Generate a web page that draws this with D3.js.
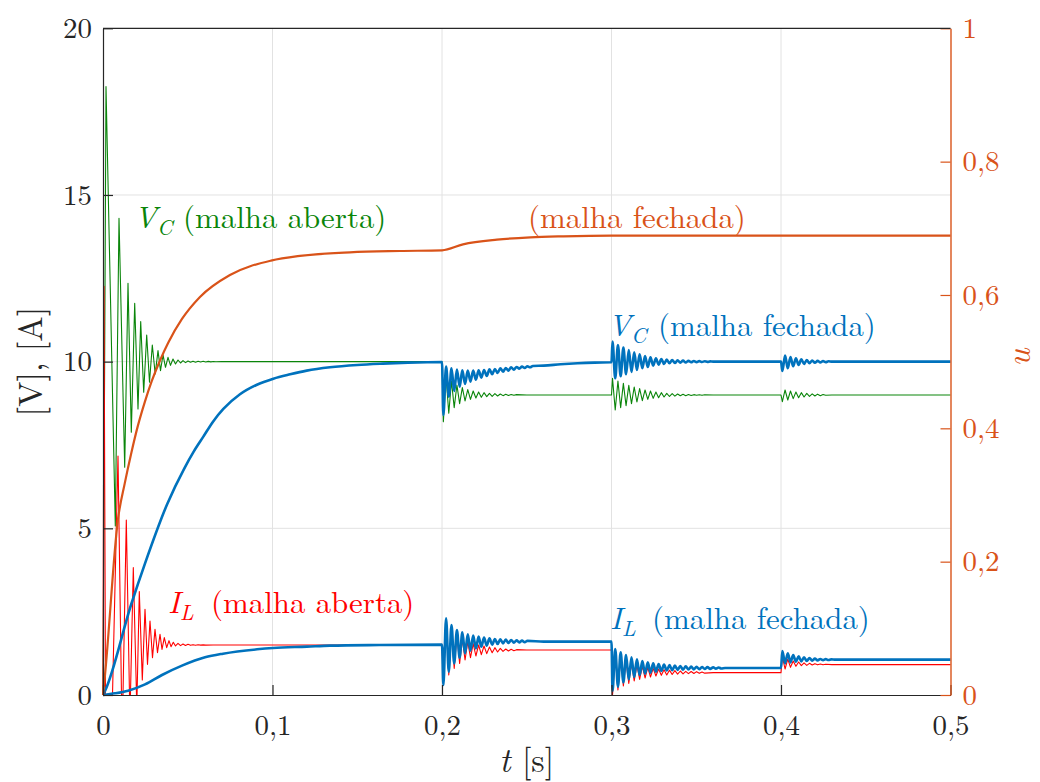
<!DOCTYPE html>
<html>
<head>
<meta charset="utf-8">
<script src="https://cdn.jsdelivr.net/npm/d3@7"></script>
<style>
  body { margin: 0; background: #fff; }
</style>
</head>
<body>
<svg id="chart" width="1040" height="782"></svg>
<script>
// ---- Tick values ----
const xTicks = [0, 0.1, 0.2, 0.3, 0.4, 0.5];
const yLeftTicks = [0, 5, 10, 15, 20];
const yRightTicks = [0, 0.2, 0.4, 0.6, 0.8, 1];

// ---- V_C, open loop: [t (s), V] ----
const vcAbertaPartida = [
  [0, 0], [0.00177, 18.25], [0.00726, 5.07], [0.00944, 14.3], [0.0128, 6.83],
  [0.01475, 12.35], [0.0167, 7.88], [0.0187, 11.75], [0.02065, 8.58], [0.02224, 11.2],
  [0.02401, 9.08], [0.02578, 10.8], [0.02743, 9.38], [0.02909, 10.5], [0.0308, 9.63],
  [0.03245, 10.33], [0.03392, 9.73], [0.0354, 10.2], [0.03687, 9.83], [0.03835, 10.13],
  [0.03982, 9.89], [0.0413, 10.08], [0.04277, 9.93], [0.04425, 10.05], [0.04572, 9.96],
  [0.0472, 10.03], [0.04867, 9.97], [0.05015, 10.02], [0.05162, 9.98], [0.0531, 10.015],
  [0.0546, 9.985], [0.0561, 10.012], [0.0576, 9.99], [0.0591, 10.01], [0.0606, 9.99],
  [0.0621, 10.008], [0.0636, 9.993], [0.0651, 10.005], [0.0666, 9.996], [0.07, 10], [0.2, 10]
];
const vcAberta02 = [
  [0.2008, 8.2], [0.2024, 9.55], [0.204, 8.45], [0.2056, 9.42], [0.2072, 8.62],
  [0.2088, 9.3], [0.2104, 8.74], [0.212, 9.22], [0.2136, 8.82], [0.2152, 9.16],
  [0.2168, 8.87], [0.2184, 9.12], [0.22, 8.91], [0.2216, 9.09], [0.2232, 8.93],
  [0.2248, 9.07], [0.2264, 8.95], [0.228, 9.05], [0.2296, 8.96], [0.2312, 9.04],
  [0.2328, 8.97], [0.2344, 9.03], [0.236, 8.98], [0.2376, 9.02], [0.2392, 8.985],
  [0.2408, 9.015], [0.2424, 8.99], [0.244, 9.01], [0.25, 9.0], [0.3, 9.0]
];
const vcAberta03 = [
  [0.3006, 9.5], [0.3022, 8.55], [0.3038, 9.42], [0.3054, 8.62], [0.307, 9.35],
  [0.3086, 8.68], [0.3102, 9.29], [0.3118, 8.74], [0.3134, 9.24], [0.315, 8.79],
  [0.3166, 9.19], [0.3182, 8.83], [0.3198, 9.15], [0.3214, 8.87], [0.323, 9.12],
  [0.3246, 8.9], [0.3262, 9.09], [0.3278, 8.92], [0.3294, 9.07], [0.331, 8.94],
  [0.3326, 9.05], [0.3342, 8.955], [0.3358, 9.04], [0.3374, 8.965], [0.339, 9.03],
  [0.3406, 8.975], [0.3422, 9.02], [0.3438, 8.98], [0.3454, 9.015], [0.347, 8.985],
  [0.3486, 9.01], [0.3502, 8.99], [0.3518, 9.008], [0.3534, 8.993], [0.355, 9.005],
  [0.36, 9], [0.4, 9]
];
const vcAberta04 = [
  [0.4008, 8.8], [0.4024, 9.15], [0.404, 8.85], [0.4056, 9.12], [0.4072, 8.89],
  [0.4088, 9.09], [0.4104, 8.92], [0.412, 9.07], [0.4136, 8.94], [0.4152, 9.05],
  [0.4168, 8.96], [0.4184, 9.035], [0.42, 8.97], [0.4216, 9.025], [0.4232, 8.98],
  [0.4248, 9.015], [0.4264, 8.99], [0.43, 9], [0.5, 9]
];

// ---- I_L, open loop: [t (s), A] ----
const ilAbertaPartida = [
  [0, 0], [0.00059, 12.26], [0.00147, 0], [0.0056, 0], [0.00885, 7.17], [0.01091, 0],
  [0.0118, 0], [0.01375, 5.25], [0.01563, 0], [0.0162, 0], [0.01788, 3.82], [0.01976, 0],
  [0.0201, 0], [0.02142, 3.1], [0.02319, 0.45], [0.02478, 2.57], [0.02625, 0.92],
  [0.02773, 2.22], [0.0292, 1.12], [0.03068, 1.97], [0.03215, 1.27], [0.03363, 1.82],
  [0.03481, 1.37], [0.03617, 1.72], [0.03758, 1.42], [0.03894, 1.63], [0.04012, 1.45],
  [0.04147, 1.58], [0.04277, 1.47], [0.04425, 1.55], [0.04572, 1.48], [0.0472, 1.53],
  [0.04867, 1.485], [0.05015, 1.52], [0.05162, 1.49], [0.0531, 1.51], [0.0546, 1.492],
  [0.0561, 1.508], [0.0576, 1.495], [0.0591, 1.505], [0.0606, 1.497], [0.065, 1.5], [0.2, 1.5]
];
const ilAberta02 = [
  [0.2008, 0.35], [0.2024, 2.2], [0.204, 0.6], [0.2056, 1.95], [0.2072, 0.8],
  [0.2088, 1.8], [0.2104, 0.95], [0.212, 1.68], [0.2136, 1.05], [0.2152, 1.6],
  [0.2168, 1.12], [0.2184, 1.54], [0.22, 1.17], [0.2216, 1.5], [0.2232, 1.21],
  [0.2248, 1.47], [0.2264, 1.24], [0.228, 1.44], [0.2296, 1.27], [0.2312, 1.42],
  [0.2328, 1.29], [0.2344, 1.4], [0.236, 1.31], [0.2376, 1.38], [0.2392, 1.32],
  [0.2408, 1.37], [0.2424, 1.33], [0.244, 1.36], [0.25, 1.35], [0.3, 1.35]
];
const ilAberta03 = [
  [0.3006, 0.0], [0.3022, 1.2], [0.3038, 0.15], [0.3054, 1.1], [0.307, 0.27],
  [0.3086, 1.02], [0.3102, 0.35], [0.3118, 0.95], [0.3134, 0.42], [0.315, 0.9],
  [0.3166, 0.47], [0.3182, 0.86], [0.3198, 0.51], [0.3214, 0.83], [0.323, 0.54],
  [0.3246, 0.8], [0.3262, 0.57], [0.3278, 0.78], [0.3294, 0.59], [0.331, 0.76],
  [0.3326, 0.6], [0.3342, 0.745], [0.3358, 0.615], [0.3374, 0.73], [0.339, 0.625],
  [0.3406, 0.72], [0.3422, 0.635], [0.3438, 0.71], [0.3454, 0.64], [0.347, 0.705],
  [0.3486, 0.645], [0.3502, 0.7], [0.3518, 0.65], [0.3534, 0.69], [0.355, 0.655],
  [0.36, 0.67], [0.4, 0.67]
];
const ilAberta04 = [
  [0.4008, 1.15], [0.4024, 0.78], [0.404, 1.08], [0.4056, 0.83], [0.4072, 1.02],
  [0.4088, 0.86], [0.4104, 0.99], [0.412, 0.88], [0.4136, 0.965], [0.4152, 0.89],
  [0.4168, 0.95], [0.4184, 0.9], [0.42, 0.94], [0.4216, 0.905], [0.4232, 0.93],
  [0.4248, 0.908], [0.4264, 0.922], [0.43, 0.91], [0.5, 0.91]
];

// ---- V_C, closed loop: [t (s), V] ----
const vcFechadaPartida = [
  [0, 0], [0.00118, 0.12], [0.0167, 2.73], [0.0248, 3.95], [0.0379, 5.73], [0.048, 6.8],
  [0.0535, 7.3], [0.0592, 7.75], [0.0649, 8.2], [0.071, 8.58], [0.0808, 9.02],
  [0.0905, 9.3], [0.1005, 9.49], [0.1104, 9.62], [0.1202, 9.73], [0.1339, 9.83],
  [0.15, 9.9], [0.165, 9.94], [0.18, 9.97], [0.2, 9.99]
];
const vcFechada02 = [
  [0.2008, 8.4], [0.2024, 9.85], [0.204, 8.95], [0.2056, 9.8], [0.2072, 9.12],
  [0.2088, 9.76], [0.2104, 9.25], [0.212, 9.74], [0.2136, 9.33], [0.2152, 9.73],
  [0.2168, 9.4], [0.2184, 9.73], [0.22, 9.46], [0.2216, 9.74], [0.2232, 9.52],
  [0.2248, 9.75], [0.2264, 9.57], [0.228, 9.77], [0.2296, 9.62], [0.2312, 9.78],
  [0.2328, 9.66], [0.2344, 9.8], [0.236, 9.7], [0.2376, 9.81], [0.2392, 9.73],
  [0.2408, 9.83], [0.2424, 9.76], [0.244, 9.84], [0.2456, 9.79], [0.2472, 9.85],
  [0.2488, 9.81], [0.2504, 9.86], [0.252, 9.83], [0.2536, 9.87], [0.26, 9.88],
  [0.27, 9.92], [0.28, 9.95], [0.29, 9.97], [0.3, 9.98]
];
const vcFechada03 = [
  [0.3006, 10.6], [0.3022, 9.5], [0.3038, 10.5], [0.3054, 9.56], [0.307, 10.42],
  [0.3086, 9.62], [0.3102, 10.35], [0.3118, 9.69], [0.3134, 10.28], [0.315, 9.75],
  [0.3166, 10.22], [0.3182, 9.8], [0.3198, 10.17], [0.3214, 9.84], [0.323, 10.13],
  [0.3246, 9.88], [0.3262, 10.1], [0.3278, 9.91], [0.3294, 10.08], [0.331, 9.93],
  [0.3326, 10.06], [0.3342, 9.95], [0.3358, 10.05], [0.3374, 9.96], [0.339, 10.04],
  [0.3406, 9.97], [0.3422, 10.03], [0.3438, 9.975], [0.3454, 10.025], [0.347, 9.98],
  [0.3486, 10.02], [0.3502, 9.985], [0.3518, 10.015], [0.3534, 9.99], [0.355, 10.01],
  [0.3566, 9.993], [0.3582, 10.007], [0.36, 10], [0.4, 10]
];
const vcFechada04 = [
  [0.4008, 9.72], [0.4024, 10.18], [0.404, 9.8], [0.4056, 10.14], [0.4072, 9.86],
  [0.4088, 10.1], [0.4104, 9.9], [0.412, 10.07], [0.4136, 9.93], [0.4152, 10.05],
  [0.4168, 9.95], [0.4184, 10.035], [0.42, 9.965], [0.4216, 10.025], [0.4232, 9.975],
  [0.4248, 10.015], [0.4264, 9.985], [0.428, 10.01], [0.43, 10], [0.5, 10]
];

// ---- I_L, closed loop: [t (s), A] ----
const ilFechadaPartida = [
  [0, 0], [0.0071, 0.05], [0.0148, 0.13], [0.0248, 0.32], [0.0348, 0.6], [0.0466, 0.88],
  [0.0602, 1.13], [0.0708, 1.24], [0.0909, 1.37], [0.1003, 1.41], [0.1203, 1.45],
  [0.1339, 1.48], [0.163, 1.5], [0.2, 1.51]
];
const ilFechada02 = [
  [0.2008, 0.3], [0.2024, 2.3], [0.204, 0.7], [0.2056, 2.1], [0.2072, 0.95],
  [0.2088, 1.95], [0.2104, 1.12], [0.212, 1.88], [0.2136, 1.25], [0.2152, 1.82],
  [0.2168, 1.33], [0.2184, 1.78], [0.22, 1.4], [0.2216, 1.75], [0.2232, 1.45],
  [0.2248, 1.72], [0.2264, 1.48], [0.228, 1.7], [0.2296, 1.51], [0.2312, 1.68],
  [0.2328, 1.53], [0.2344, 1.67], [0.236, 1.55], [0.2376, 1.66], [0.2392, 1.56],
  [0.2408, 1.65], [0.2424, 1.57], [0.244, 1.64], [0.2456, 1.58], [0.2472, 1.63],
  [0.2488, 1.585], [0.2504, 1.625], [0.26, 1.6], [0.3, 1.6]
];
const ilFechada03 = [
  [0.3006, 0.12], [0.3022, 1.38], [0.3038, 0.25], [0.3054, 1.28], [0.307, 0.38],
  [0.3086, 1.2], [0.3102, 0.47], [0.3118, 1.13], [0.3134, 0.54], [0.315, 1.07],
  [0.3166, 0.6], [0.3182, 1.02], [0.3198, 0.64], [0.3214, 0.98], [0.323, 0.67],
  [0.3246, 0.95], [0.3262, 0.7], [0.3278, 0.93], [0.3294, 0.72], [0.331, 0.91],
  [0.3326, 0.735], [0.3342, 0.895], [0.3358, 0.745], [0.3374, 0.88], [0.339, 0.755],
  [0.3406, 0.87], [0.3422, 0.76], [0.3438, 0.86], [0.3454, 0.765], [0.347, 0.85],
  [0.3486, 0.77], [0.3502, 0.845], [0.3518, 0.775], [0.3534, 0.84], [0.355, 0.78],
  [0.3566, 0.835], [0.3582, 0.785], [0.36, 0.83], [0.3616, 0.79], [0.3632, 0.825],
  [0.3648, 0.795], [0.367, 0.81], [0.4, 0.81]
];
const ilFechada04 = [
  [0.4008, 1.32], [0.4024, 0.95], [0.404, 1.25], [0.4056, 0.98], [0.4072, 1.2],
  [0.4088, 1.0], [0.4104, 1.16], [0.412, 1.01], [0.4136, 1.13], [0.4152, 1.02],
  [0.4168, 1.11], [0.4184, 1.03], [0.42, 1.09], [0.4216, 1.04], [0.4232, 1.08],
  [0.4248, 1.045], [0.4264, 1.075], [0.428, 1.05], [0.4296, 1.07], [0.432, 1.06],
  [0.5, 1.06]
];

// ---- Control signal u (right axis): [t (s), u] ----
const uFechada = [
  [0, 0], [0.00118, 0.03], [0.00885, 0.264], [0.0128, 0.317], [0.0167, 0.363],
  [0.0206, 0.404], [0.0246, 0.439], [0.0288, 0.471], [0.0335, 0.501], [0.0384, 0.528],
  [0.0466, 0.564], [0.0572, 0.597], [0.0749, 0.63], [0.0991, 0.6515], [0.1162, 0.6586],
  [0.1457, 0.664], [0.1752, 0.666], [0.2, 0.667], [0.2124, 0.676], [0.2324, 0.683],
  [0.2521, 0.6865], [0.2716, 0.688], [0.3, 0.689], [0.5, 0.689]
];

const vcAberta = vcAbertaPartida.concat(vcAberta02, vcAberta03, vcAberta04);
const ilAberta = ilAbertaPartida.concat(ilAberta02, ilAberta03, ilAberta04);
const vcFechada = vcFechadaPartida.concat(vcFechada02, vcFechada03, vcFechada04);
const ilFechada = ilFechadaPartida.concat(ilFechada02, ilFechada03, ilFechada04);

// ---- Font: first installed serif face, else the default ----
const ctx = document.createElement("canvas").getContext("2d");
function installed(f) {
  const s = "(malha aberta) 0,123456789 [V] [A]";
  ctx.font = "40px monospace"; const wm = ctx.measureText(s).width;
  ctx.font = `40px "${f}", monospace`; const w1 = ctx.measureText(s).width;
  ctx.font = "40px sans-serif"; const ws = ctx.measureText(s).width;
  ctx.font = `40px "${f}", sans-serif`; const w2 = ctx.measureText(s).width;
  return Math.abs(w1 - w2) < 0.01 && (Math.abs(w1 - wm) > 0.01 || Math.abs(w2 - ws) > 0.01);
}
const serifCandidates = ["Latin Modern Roman", "CMU Serif", "Liberation Serif", "DejaVu Serif",
  "Tinos", "Times New Roman", "Nimbus Roman", "Nimbus Roman No9 L", "FreeSerif", "Noto Serif", "Times", "Georgia"];
const face = serifCandidates.find(installed);
const fontFamily = face ? `"${face}", serif` : "serif";
// size that makes a sample string span a given width
function fitSize(sample, width, style) {
  ctx.font = `${style || ""} 100px ${fontFamily}`;
  return 100 * width / ctx.measureText(sample).width;
}
const tickSize = Math.min(31, fitSize("0,1", 37));
const annSize = Math.min(36, fitSize("(malha fechada)", 218));
const titleSize = Math.min(34, fitSize("[V], [A]", 150));

// ---- Layout ----
const W = 1040, H = 782;
const box = { left: 103, right: 950.5, top: 28.3, bottom: 695 };
const colors = { green: "#0a850a", red: "#ff0000", blue: "#0072bd", orange: "#d95319", ink: "#262626" };

const svg = d3.select("#chart").attr("width", W).attr("height", H);
svg.append("rect").attr("width", W).attr("height", H).attr("fill", "#fff");

const x = d3.scaleLinear().domain([0, 0.5]).range([box.left, box.right]);
const yL = d3.scaleLinear().domain([0, 20]).range([box.bottom, box.top]);
const yR = d3.scaleLinear().domain([0, 1]).range([box.bottom, box.top]);

const comma = d => String(+d.toFixed(2)).replace(".", ",");

// grid
const grid = svg.append("g").attr("stroke", "#e2e2e2").attr("stroke-width", 1);
grid.selectAll("line.gx").data(xTicks.slice(1, -1)).join("line")
  .attr("x1", d => x(d)).attr("x2", d => x(d))
  .attr("y1", box.top).attr("y2", box.bottom);
grid.selectAll("line.gy").data(yLeftTicks.slice(1, -1)).join("line")
  .attr("x1", box.left).attr("x2", box.right)
  .attr("y1", d => yL(d)).attr("y2", d => yL(d));

// series
const lineL = d3.line().x(d => x(d[0])).y(d => yL(d[1]));
const lineLSmooth = d3.line().x(d => x(d[0])).y(d => yL(d[1])).curve(d3.curveMonotoneX);
const lineR = d3.line().x(d => x(d[0])).y(d => yR(d[1])).curve(d3.curveMonotoneX);

const plot = svg.append("g").attr("fill", "none").attr("stroke-linejoin", "round");
plot.append("path").attr("d", lineL(vcAberta)).attr("stroke", colors.green).attr("stroke-width", 1.1);
plot.append("path").attr("d", lineL(ilAberta)).attr("stroke", colors.red).attr("stroke-width", 1.1);
plot.append("path").attr("d", lineLSmooth(vcFechada)).attr("stroke", colors.blue).attr("stroke-width", 2.6);
plot.append("path").attr("d", lineLSmooth(ilFechada)).attr("stroke", colors.blue).attr("stroke-width", 2.6);
plot.append("path").attr("d", lineR(uFechada)).attr("stroke", colors.orange).attr("stroke-width", 2.2);

// axes
const axB = svg.append("g").attr("transform", `translate(0,${box.bottom})`)
  .call(d3.axisBottom(x).tickValues(xTicks).tickFormat(comma).tickSizeInner(-10).tickSizeOuter(0).tickPadding(19));
const axL = svg.append("g").attr("transform", `translate(${box.left},0)`)
  .call(d3.axisLeft(yL).tickValues(yLeftTicks).tickFormat(d => d).tickSizeInner(-10).tickSizeOuter(0).tickPadding(11));
const axR = svg.append("g").attr("transform", `translate(${box.right},0)`)
  .call(d3.axisRight(yR).tickValues(yRightTicks).tickFormat(comma).tickSizeInner(-10).tickSizeOuter(0).tickPadding(12));

[axB, axL, axR].forEach(g => g.attr("font-family", fontFamily).attr("font-size", tickSize));
[axB, axL].forEach(g => {
  g.select(".domain").attr("stroke", colors.ink).attr("stroke-width", 1.2);
  g.selectAll(".tick line").attr("stroke", colors.ink).attr("stroke-width", 1.2);
  g.selectAll(".tick text").attr("fill", colors.ink);
});
axR.select(".domain").attr("stroke", colors.orange).attr("stroke-width", 1.4);
axR.selectAll(".tick line").attr("stroke", colors.orange).attr("stroke-width", 1.2);
axR.selectAll(".tick text").attr("fill", colors.orange);

// top border
svg.append("line").attr("x1", box.left).attr("x2", box.right)
  .attr("y1", box.top).attr("y2", box.top)
  .attr("stroke", colors.ink).attr("stroke-width", 1.2);

// axis titles
svg.append("text").attr("transform", `translate(42,${(box.top + box.bottom) / 2}) rotate(-90)`)
  .attr("text-anchor", "middle").attr("fill", colors.ink)
  .attr("font-family", fontFamily).attr("font-size", titleSize)
  .text("[V], [A]");
const tl = svg.append("text").attr("x", x(0.25)).attr("y", 772).attr("text-anchor", "middle")
  .attr("fill", colors.ink).attr("font-family", fontFamily).attr("font-size", titleSize);
tl.append("tspan").attr("font-style", "italic").text("t");
tl.append("tspan").text(" [s]");
svg.append("text").attr("transform", `translate(1030,${(box.top + box.bottom) / 2 - 4}) rotate(-90)`)
  .attr("text-anchor", "middle").attr("fill", colors.orange)
  .attr("font-family", fontFamily).attr("font-size", titleSize)
  .attr("font-style", "italic").text("u");

// annotations
function annot(px, py, sym, sub, rest, restX, color) {
  const t = svg.append("text").attr("x", px).attr("y", py).attr("fill", color)
    .attr("font-family", fontFamily).attr("font-size", annSize);
  if (sym) {
    t.append("tspan").attr("font-style", "italic").text(sym);
    t.append("tspan").attr("font-style", "italic").attr("dy", 7).attr("font-size", annSize * 0.7).text(sub);
    t.append("tspan").attr("x", restX).attr("dy", -7).text(rest);
  } else {
    t.text(rest);
  }
}
annot(134, 228, "V", "C", "(malha aberta)", 183, colors.green);
annot(528, 228, null, null, "(malha fechada)", null, colors.orange);
annot(608, 336, "V", "C", "(malha fechada)", 658, colors.blue);
annot(168, 613, "I", "L", "(malha aberta)", 211, colors.red);
annot(610, 629, "I", "L", "(malha fechada)", 652, colors.blue);
</script>
</body>
</html>
